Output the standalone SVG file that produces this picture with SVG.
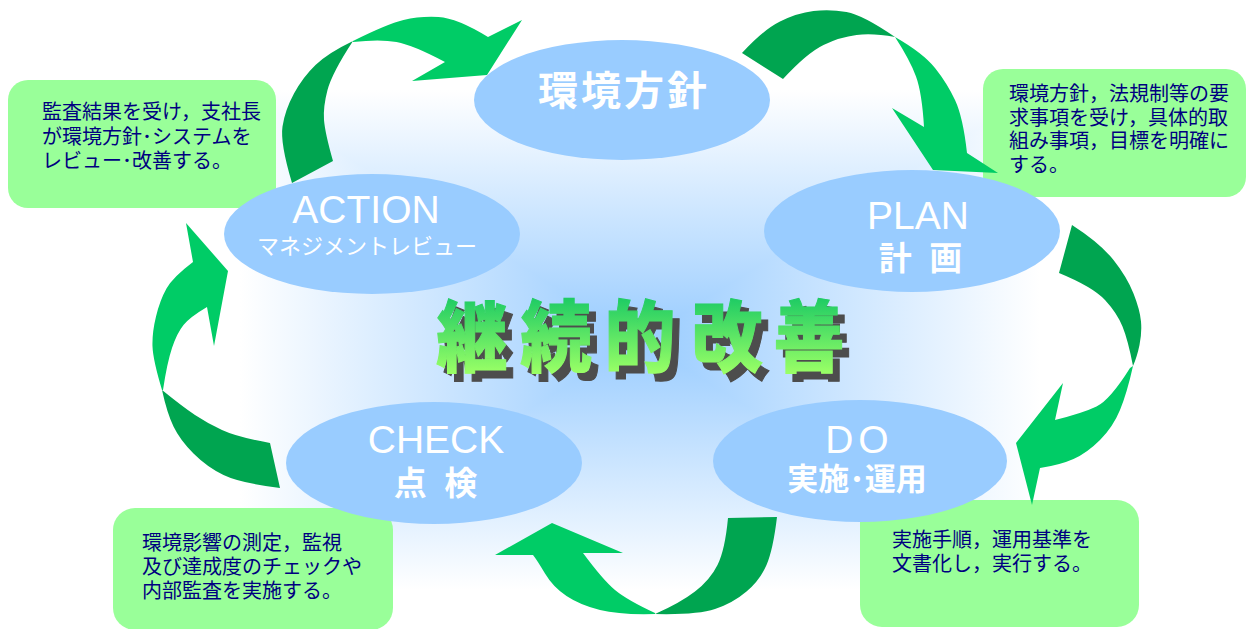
<svg xmlns="http://www.w3.org/2000/svg" width="1247" height="629" viewBox="0 0 1247 629">
<defs>
  <linearGradient id="gh" gradientUnits="userSpaceOnUse" x1="240" y1="0" x2="1040" y2="0">
    <stop offset="0" stop-color="#ffffff"/><stop offset="0.5" stop-color="#99ccff"/><stop offset="1" stop-color="#ffffff"/>
  </linearGradient>
  <linearGradient id="gt" gradientUnits="userSpaceOnUse" x1="0" y1="90" x2="0" y2="340">
    <stop offset="0" stop-color="#ffffff"/><stop offset="1" stop-color="#99ccff"/>
  </linearGradient>
  <linearGradient id="gb" gradientUnits="userSpaceOnUse" x1="0" y1="340" x2="0" y2="590">
    <stop offset="0" stop-color="#99ccff"/><stop offset="1" stop-color="#ffffff"/>
  </linearGradient>
  <linearGradient id="gtext" gradientUnits="userSpaceOnUse" x1="0" y1="304" x2="0" y2="372">
    <stop offset="0" stop-color="#1ecb64"/><stop offset="1" stop-color="#99ff66"/>
  </linearGradient>
</defs>
<style>
  .note{fill:#99ff99}
  .nt{font-family:"Noto Sans CJK JP","Noto Sans CJK SC",sans-serif;font-size:20px;fill:#000080}
  .ell{fill:#99ccff}
  .lat{font-family:"Liberation Sans",Arial,sans-serif;fill:#ffffff;text-anchor:middle}
  .jp{font-family:"Noto Sans CJK JP","Noto Sans CJK SC",sans-serif;fill:#ffffff;text-anchor:middle}
  .dk{fill:#00a550}
  .lt{fill:#00cc66}
  .title{font-family:"Noto Sans CJK JP","Noto Sans CJK SC",sans-serif;font-size:71px;font-weight:900;text-anchor:middle}
</style>
<rect width="1247" height="629" fill="#ffffff"/>
<g id="glow">
  <rect x="240" y="90" width="800" height="500" fill="url(#gh)"/>
  <polygon points="240,90 1040,90 640,340" fill="url(#gt)"/>
  <polygon points="240,590 1040,590 640,340" fill="url(#gb)"/>
</g>

<g id="note-action">
  <rect class="note" x="8" y="80" width="268" height="128" rx="20"/>
  <text class="nt" x="42" y="119">監査結果を受け，支社長</text>
  <text class="nt" x="42" y="144">が環境方針･システムを</text>
  <text class="nt" x="42" y="168">レビュー･改善する。</text>
</g>
<g id="note-plan">
  <rect class="note" x="983" y="69" width="263" height="128" rx="20"/>
  <text class="nt" x="1009" y="101">環境方針，法規制等の要</text>
  <text class="nt" x="1009" y="125">求事項を受け，具体的取</text>
  <text class="nt" x="1009" y="148">組み事項，目標を明確に</text>
  <text class="nt" x="1009" y="172">する。</text>
</g>
<g id="note-check">
  <rect class="note" x="113" y="508" width="280" height="122" rx="22"/>
  <text class="nt" x="142" y="550">環境影響の測定，監視</text>
  <text class="nt" x="142" y="574">及び達成度のチェックや</text>
  <text class="nt" x="142" y="598">内部監査を実施する。</text>
</g>
<g id="note-do">
  <rect class="note" x="860" y="500" width="279" height="127" rx="22"/>
  <text class="nt" x="892" y="547">実施手順，運用基準を</text>
  <text class="nt" x="892" y="571">文書化し，実行する。</text>
</g>

<g id="connectors">
  <g id="arrow-action-policy">
    <path class="dk" d="M292,183 Q280,143 282.5,126.5 Q285,110 294,93.5 Q303,77 315.5,65 Q328,53 353,41 Q332,73 327.5,90 Q323,107 324,120 Q325,133 333,161 Z"/>
    <path class="lt" d="M353,41 Q387,24 403.5,20 Q420,16 438.5,17 Q457,18 488,37 L522,20 L487,75 L412,81 L445,62 Q413,45 396.5,42 Q380,39 353,42 Z"/>
  </g>
  <g id="arrow-policy-plan">
    <path class="dk" d="M742,53 Q763,30 780,21.5 Q797,13 813.5,11 Q830,9 846.5,12 Q863,15 895,37 Q873,33 856.5,35 Q840,37 823.5,45 Q807,53 783,79 Z"/>
    <path class="lt" d="M895,37 Q923,53 935,68 Q947,83 955,100 Q963,117 967,153 L998,173 L933,170 L892,108 L924,127 Q922,93 916,76.5 Q910,60 895,37 Z"/>
  </g>
  <g id="arrow-plan-do">
    <path class="dk" d="M1072,225 Q1100,243 1113.5,260 Q1127,277 1133.5,293.5 Q1140,310 1141,321.5 Q1142,333 1139.5,345 Q1137,357 1133,366 Q1128,340 1122.5,326.5 Q1117,313 1105,300 Q1093,287 1059,273 Z"/>
    <path class="lt" d="M1133,366 Q1127,393 1120,410 Q1113,427 1100,440 Q1087,453 1073.5,459 Q1060,465 1040,468 L1032,505 L1016,443 L1063,383 L1055,420 Q1083,413 1096.5,406.5 Q1110,400 1130,368 Z"/>
  </g>
  <g id="arrow-do-check">
    <path class="dk" d="M777,517 Q773,550 766.5,565 Q760,580 746.5,591.5 Q733,603 715,609 Q697,615 655,614 Q680,603 695,591.5 Q710,580 717.5,565 Q725,550 728,518 Z"/>
    <path class="lt" d="M655,614 Q620,615 600,610 Q580,605 566.5,596 Q553,587 545,573.5 Q537,560 533,555 L495,555 L552,523 L623,553 L583,553 Q603,580 615,590 Q627,600 655,613 Z"/>
  </g>
  <g id="arrow-check-action">
    <path class="dk" d="M280,488 Q240,483 223.5,475 Q207,467 193.5,453.5 Q180,440 173.5,426.5 Q167,413 162,390 Q183,407 195,415 Q207,423 222,430 Q237,437 270,443 Z"/>
    <path class="lt" d="M162,390 Q153,360 152.5,346.5 Q152,333 156,316.5 Q160,300 166.5,288.5 Q173,277 193,262 L186,223 L228,271 L214,346 L207,307 Q190,317 183.5,325 Q177,333 172,348 Q167,363 163,390 Z"/>
  </g>
</g>

<g id="node-policy">
  <ellipse class="ell" cx="622" cy="100" rx="148" ry="60"/>
  <text class="jp" x="624" y="105" font-size="40" font-weight="bold" letter-spacing="3">環境方針</text>
</g>
<g id="node-action">
  <ellipse class="ell" cx="372" cy="234" rx="148" ry="60"/>
  <text class="lat" x="366" y="223" font-size="39">ACTION</text>
  <text class="jp" x="367" y="254" font-size="22">マネジメントレビュー</text>
</g>
<g id="node-plan">
  <ellipse class="ell" cx="912" cy="231" rx="148" ry="61"/>
  <text class="lat" x="918" y="229" font-size="39">PLAN</text>
  <text class="jp" x="923" y="270" font-size="33" font-weight="bold" letter-spacing="5">計 画</text>
</g>
<g id="node-check">
  <ellipse class="ell" cx="434" cy="463" rx="148" ry="61"/>
  <text class="lat" x="436" y="453" font-size="39">CHECK</text>
  <text class="jp" x="438" y="495" font-size="33" font-weight="bold" letter-spacing="5">点 検</text>
</g>
<g id="node-do">
  <ellipse class="ell" cx="860" cy="461" rx="147" ry="61"/>
  <text class="lat" x="857" y="453" font-size="39" word-spacing="-6">D O</text>
  <text class="jp" x="857" y="490" font-size="31" font-weight="bold">実施･運用</text>
</g>

<g id="title" transform="translate(0,366) scale(1,1.1) translate(0,-366)">
  <text class="title" x="479 563 647 734 816" y="373" fill="#4d4d4d" stroke="#4d4d4d" stroke-width="1">継続的改善</text>
  <text class="title" x="472 556 640 727 809" y="366" fill="url(#gtext)" stroke="url(#gtext)" stroke-width="1">継続的改善</text>
</g>
</svg>
